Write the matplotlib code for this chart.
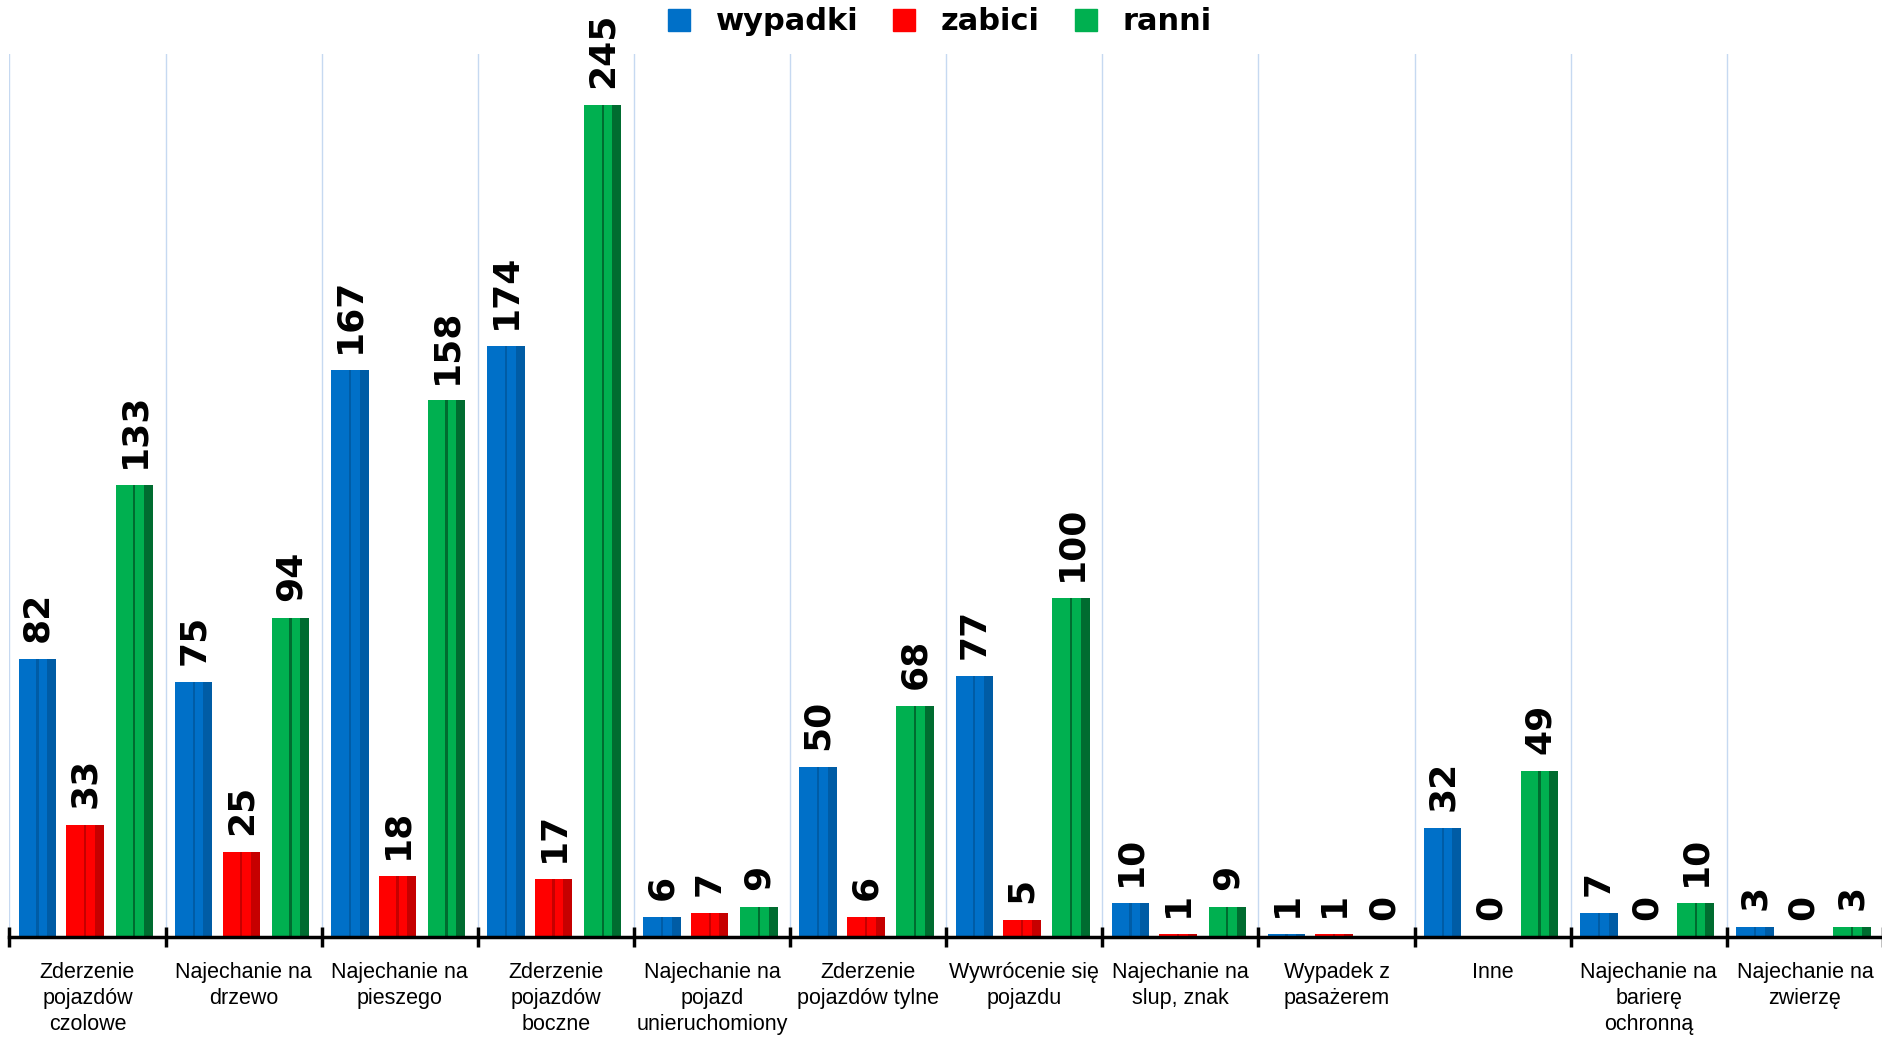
import numpy as np
import matplotlib
matplotlib.use('Agg')
import matplotlib.pyplot as plt
from matplotlib.lines import Line2D

categories = ['Zderzenie\npojazdów\nczolowe', 'Najechanie na\ndrzewo', 'Najechanie na\npieszego',
              'Zderzenie\npojazdów\nboczne', 'Najechanie na\npojazd\nunieruchomiony',
              'Zderzenie\npojazdów tylne', 'Wywrócenie się\npojazdu', 'Najechanie na\nslup, znak',
              'Wypadek z\npasażerem', 'Inne', 'Najechanie na\nbarierę\nochronną',
              'Najechanie na\nzwierzę']
wypadki = [82, 75, 167, 174, 6, 50, 77, 10, 1, 32, 7, 3]
zabici = [33, 25, 18, 17, 7, 6, 5, 1, 1, 0, 0, 0]
ranni = [133, 94, 158, 245, 9, 68, 100, 9, 0, 49, 10, 3]

series = [('wypadki', wypadki, '#0070c8', '#00508f'),
          ('zabici', zabici, '#ff0000', '#a00000'),
          ('ranni', ranni, '#00b050', '#00401c')]

fig = plt.figure(figsize=(18.83, 10.39), dpi=100)
ax = fig.add_axes([0.005, 0.098, 0.995, 0.85])

x = np.arange(len(categories))
width = 0.24
offsets = [-0.32, -0.015, 0.30]

for (name, vals, col, dark), off in zip(series, offsets):
    ax.bar(x + off, vals, width, color=col, zorder=3)
    # rough bevel: dark strip on right side, thin dark line in the middle
    ax.bar(x + off + width * 0.38, vals, width * 0.24, color=dark, alpha=0.6, zorder=4)
    ax.bar(x + off, vals, width * 0.06, color=dark, alpha=0.6, zorder=4)
    for xi, v in zip(x, vals):
        ax.text(xi + off, v + 5, str(v), rotation=90, ha='center', va='bottom',
                fontsize=26, fontweight='heavy', family='DejaVu Sans', zorder=5)

bounds = np.arange(len(categories) + 1) - 0.5
for b in bounds:
    ax.axvline(b, color='#c6d9f1', lw=1, zorder=1)

ax.set_xlim(-0.5, len(categories) - 0.5)
ax.set_ylim(0, 260)
ax.set_xticks(bounds)
ax.set_xticklabels([])
ax.tick_params(axis='x', direction='inout', length=14, width=2.5, color='black')
ax.set_yticks([])
for s in ['top', 'right', 'left']:
    ax.spines[s].set_visible(False)
ax.spines['bottom'].set_linewidth(2.5)
ax.spines['bottom'].set_zorder(6)

for xi, lab in zip(x, categories):
    ax.text(xi, -0.028, lab, transform=ax.get_xaxis_transform(), ha='center', va='top',
            fontsize=15.5, linespacing=1.3, family=['Liberation Sans', 'DejaVu Sans'])

handles = [Line2D([], [], marker='s', linestyle='none', markersize=16,
                  markerfacecolor=col, markeredgecolor=col) for _, _, col, _ in series]
fig.legend(handles, [s[0] for s in series], loc='center', bbox_to_anchor=(0.498, 0.979),
           ncol=3, frameon=False, prop={'family': 'DejaVu Sans', 'weight': 'bold', 'size': 22},
           handletextpad=0.7, columnspacing=1.0, handlelength=1.0)

fig.savefig('out.png', dpi=100)
